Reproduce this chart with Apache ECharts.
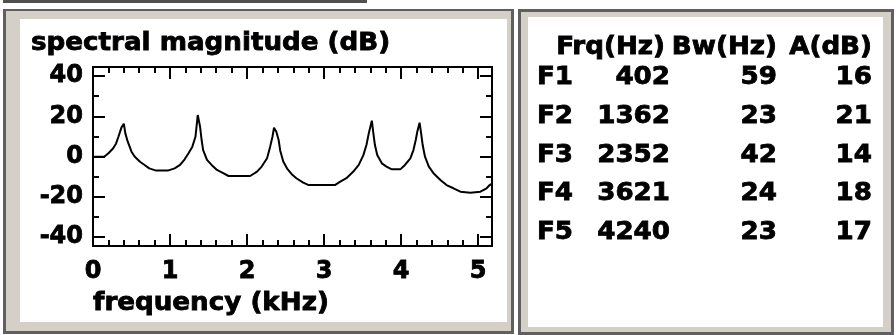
<!DOCTYPE html>
<html>
<head>
<meta charset="utf-8">
<script src="https://cdn.jsdelivr.net/npm/echarts@6/dist/echarts.min.js"></script>
<style>
  html, body { margin: 0; padding: 0; background: #fff; }
  #spec { width: 896px; height: 335px; }
</style>
</head>
<body>
<div id="spec"></div>
<script>
// spectrum: frequency (kHz) / magnitude (dB)
var freqKHz = [0.00, 0.15, 0.20, 0.26, 0.30, 0.33, 0.37, 0.40, 0.42, 0.45, 0.50, 0.54, 0.61, 0.67, 0.73, 0.82, 0.97,
  1.06, 1.13, 1.19, 1.24, 1.29, 1.33, 1.36, 1.39, 1.41, 1.43, 1.48, 1.54, 1.61, 1.69, 1.76, 2.04,
  2.13, 2.19, 2.26, 2.30, 2.33, 2.35, 2.38, 2.41, 2.43, 2.47, 2.52, 2.58, 2.64, 2.73, 2.80, 3.14,
  3.21, 3.29, 3.38, 3.45, 3.51, 3.55, 3.58, 3.62, 3.64, 3.66, 3.69, 3.75, 3.81, 3.88, 3.99,
  4.05, 4.12, 4.16, 4.19, 4.21, 4.24, 4.26, 4.28, 4.31, 4.36, 4.42, 4.51, 4.59, 4.68, 4.77, 4.90,
  5.03, 5.11, 5.15, 5.18];
var magDB = [-0.1, 0.0, 1.6, 4.0, 6.5, 9.8, 14.5, 16.3, 11.5, 7.5, 2.4, 0.0, -2.6, -4.2, -5.9, -7.0, -7.0,
  -5.9, -4.2, -1.4, 1.6, 4.9, 9.8, 20.6, 14.8, 8.2, 3.2, -1.7, -4.2, -6.7, -8.3, -9.7, -9.7,
  -7.5, -5.0, -0.9, 4.9, 9.8, 14.3, 12.3, 8.2, 3.0, -2.5, -6.0, -8.8, -10.8, -13.0, -14.2, -14.2,
  -12.5, -10.8, -7.5, -4.2, 0.7, 5.7, 11.5, 17.8, 11.5, 5.7, 0.7, -3.4, -5.0, -6.4, -6.4,
  -4.2, -0.9, 3.2, 8.2, 12.3, 16.8, 11.5, 5.7, -0.1, -5.0, -8.3, -11.7, -14.2, -15.8, -17.5, -18.0,
  -17.5, -15.8, -14.2, -13.5];

// axis ticks
var xMajor = [0, 1, 2, 3, 4, 5];
var xMinor = [0.2, 0.4, 0.6, 0.8, 1.2, 1.4, 1.6, 1.8, 2.2, 2.4, 2.6, 2.8, 3.2, 3.4, 3.6, 3.8, 4.2, 4.4, 4.6, 4.8];
var yMajor = [-40, -20, 0, 20, 40];
var yMinor = [-30, -10, 10, 30];

// formant table
var formantNames = ['F1', 'F2', 'F3', 'F4', 'F5'];
var formantFrq = [402, 1362, 2352, 3621, 4240];
var formantBw = [59, 23, 42, 24, 23];
var formantAmp = [16, 21, 14, 18, 17];
var tableHeader = ['Frq(Hz)', 'Bw(Hz)', 'A(dB)'];

var FONT = 'bold 24px "DejaVu Sans"';
var SX = 1.09;

var myChart = echarts.init(document.getElementById('spec'));

var points = [];
for (var i = 0; i < freqKHz.length; i++) {
    points.push([freqKHz[i], magDB[i]]);
}

function txt(x, y, s, align) {
    return {
        type: 'text', x: x, y: y, scaleX: SX, z: 5,
        style: {
            text: s, font: FONT, fill: '#000', stroke: '#000', lineWidth: 0.8,
            textAlign: align, textVerticalAlign: 'middle', verticalAlign: 'middle'
        }
    };
}

var labelStyle = {
    color: '#000', fontFamily: 'DejaVu Sans', fontWeight: 'bold', fontSize: 24,
    textBorderColor: '#000', textBorderWidth: 0.8
};

function xAx(pos, ticks, len, labels) {
    return {
        type: 'value', min: 0, max: 5.18, position: pos,
        axisLine: { show: false, onZero: false },
        splitLine: { show: false },
        axisTick: { show: true, inside: true, length: len, customValues: ticks, lineStyle: { color: '#000', width: 2 } },
        axisLabel: labels ? Object.assign({ show: true, customValues: xMajor, margin: 14 }, labelStyle) : { show: false }
    };
}
function yAx(pos, ticks, len, labels) {
    return {
        type: 'value', min: -44.5, max: 44.5, position: pos,
        axisLine: { show: false, onZero: false },
        splitLine: { show: false },
        axisTick: { show: true, inside: true, length: len, customValues: ticks, lineStyle: { color: '#000', width: 2 } },
        axisLabel: labels ? Object.assign({ show: true, customValues: yMajor, margin: 10 }, labelStyle) : { show: false }
    };
}

var graphics = [
    // window decoration
    { type: 'rect', z: -1, shape: { x: 3, y: 0, width: 364, height: 3 }, style: { fill: '#505050' } },
    { type: 'rect', z: -1, shape: { x: 3, y: 9, width: 511, height: 325 }, style: { fill: '#5f5f5f' } },
    { type: 'rect', z: -1, shape: { x: 6, y: 11, width: 505, height: 320 }, style: { fill: '#d4d0c8' } },
    { type: 'rect', z: -1, shape: { x: 20, y: 19, width: 487, height: 303 }, style: { fill: '#ffffff' } },
    { type: 'rect', z: -1, shape: { x: 518, y: 9, width: 376, height: 326 }, style: { fill: '#5f5f5f' } },
    { type: 'rect', z: -1, shape: { x: 521, y: 12, width: 370, height: 320 }, style: { fill: '#d4d0c8' } },
    { type: 'rect', z: -1, shape: { x: 528, y: 17, width: 355, height: 310 }, style: { fill: '#ffffff' } },
    // plot frame
    { type: 'rect', z: 10, shape: { x: 93, y: 67, width: 399, height: 179 }, style: { fill: null, stroke: '#000', lineWidth: 2 } },
    txt(31, 44, 'spectral magnitude (dB)', 'left'),
    txt(93, 304, 'frequency (kHz)', 'left')
];

var colRight = [670, 777, 872];
var headRight = [665, 777, 872];
for (var c = 0; c < tableHeader.length; c++) {
    graphics.push(txt(headRight[c], 48, tableHeader[c], 'right'));
}
for (var r = 0; r < formantNames.length; r++) {
    var ry = 78 + r * 38.7;
    graphics.push(txt(537, ry, formantNames[r], 'left'));
    graphics.push(txt(colRight[0], ry, String(formantFrq[r]), 'right'));
    graphics.push(txt(colRight[1], ry, String(formantBw[r]), 'right'));
    graphics.push(txt(colRight[2], ry, String(formantAmp[r]), 'right'));
}

myChart.setOption({
    animation: false,
    grid: { left: 93, top: 67, width: 399, height: 179, show: false },
    xAxis: [
        xAx('bottom', xMajor, 12, true),
        xAx('bottom', xMinor, 6, false),
        xAx('top', xMajor, 12, false),
        xAx('top', xMinor, 6, false)
    ],
    yAxis: [
        yAx('left', yMajor, 12, true),
        yAx('left', yMinor, 6, false),
        yAx('right', yMajor, 12, false),
        yAx('right', yMinor, 6, false)
    ],
    graphic: graphics,
    series: [{
        type: 'line',
        xAxisIndex: 0,
        yAxisIndex: 0,
        data: points,
        symbol: 'none',
        lineStyle: { color: '#000', width: 2 }
    }]
});
</script>
</body>
</html>
